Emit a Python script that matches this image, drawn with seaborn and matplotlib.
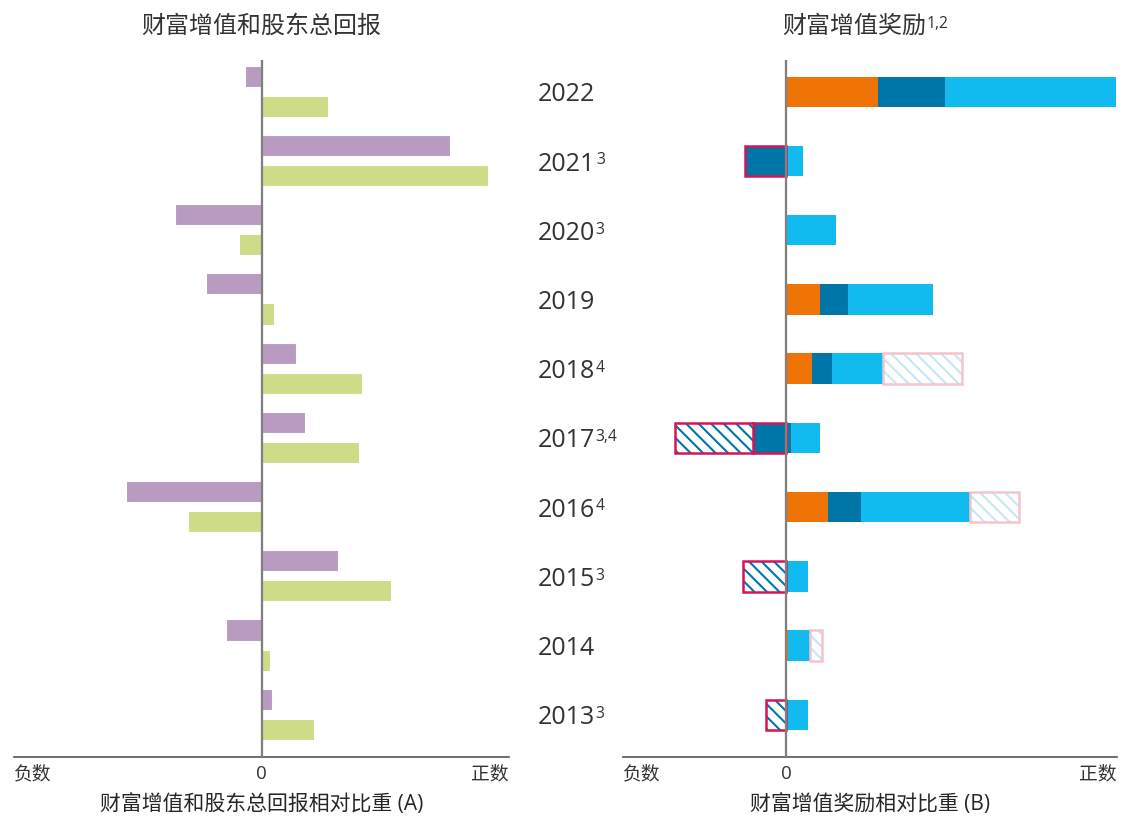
import matplotlib.pyplot as plt
import numpy as np
import pandas as pd
import seaborn as sns

# Years (top to bottom) and footnote markers
years = ['2022', '2021', '2020', '2019', '2018', '2017', '2016', '2015', '2014', '2013']
year_notes = ['', '3', '3', '', '4', '3,4', '4', '3', '', '3']

# Panel A: relative weight (-100 = 负数, 100 = 正数)
wealth_added = [-6.5, 76.6, -35.1, -22.6, 14.5, 18.1, -54.8, 31.5, -14.5, 4.8]
tsr = [27.4, 91.9, -8.9, 5.6, 41.1, 39.9, -29.8, 52.8, 4.0, 21.8]

# Panel B: bonus components, same units
bonus_orange = [37.1, 0, 0, 13.7, 10.5, 0.8, 16.9, 0, 0.8, 0]
bonus_dark = [27.0, 0, 0, 11.3, 8.1, 1.2, 13.3, 0, 0, 0]
bonus_light = [69.0, 6.9, 20.2, 34.3, 20.6, 11.7, 44.0, 8.9, 8.9, 8.9]
bonus_light_hatch = [0, 0, 0, 0, 31.9, 0, 19.8, 0, 4.8, 0]
bonus_dark_neg = [0, -16.5, 0, 0, 0, -13.3, 0, 0, 0, 0]
bonus_hatch_neg = [0, 0, 0, 0, 0, -31.5, 0, -17.3, 0, -8.1]

PURPLE, GREEN = '#B99BC1', '#CFDC87'
ORANGE, DARK, LIGHT = '#EF7405', '#0076A8', '#12BBEF'
RED, PINK, PALE = '#D4145A', '#F5C4CA', '#C4E6F7'
TEXT = '#333333'

sns.set_style('white')
plt.rcParams['font.family'] = ['Open Sans', 'Noto Sans CJK SC', 'DejaVu Sans']
plt.rcParams['hatch.linewidth'] = 1.0
plt.rcParams['text.color'] = TEXT
plt.rcParams['xtick.color'] = TEXT

fig = plt.figure(figsize=(7.48, 5.44), dpi=150)
W, H = 1122, 816
ax1 = fig.add_axes([14 / W, 59 / H, 495 / W, 697 / H])
ax2 = fig.add_axes([623 / W, 59 / H, 494 / W, 697 / H])

# Panel A: dodged bars with seaborn
dfA = pd.DataFrame({
    'year': years * 2,
    'measure': ['财富增值'] * len(years) + ['股东总回报'] * len(years),
    'value': wealth_added + tsr,
})
sns.barplot(data=dfA, x='value', y='year', hue='measure', palette=[PURPLE, GREEN],
            orient='h', width=0.87, gap=0.265, dodge=True, errorbar=None,
            saturation=1, legend=False, ax=ax1)

# Panel B: stacked bars
pos = np.arange(len(years))
h = 0.44
start = np.zeros(len(years))
for vals, color in [(bonus_orange, ORANGE), (bonus_dark, DARK), (bonus_light, LIGHT)]:
    v = np.array(vals, dtype=float)
    ax2.barh(pos, v, left=start, height=h, color=color, linewidth=0)
    start += v

v = np.array(bonus_light_hatch, dtype=float)
m = v > 0
ax2.barh(pos[m], v[m], left=start[m], height=h, facecolor='white', edgecolor=PALE,
         hatch='\\\\\\\\', linewidth=0)
ax2.barh(pos[m], v[m], left=start[m], height=h, facecolor='none', edgecolor=PINK, linewidth=1.2)

dn = np.array(bonus_dark_neg, dtype=float)
m = dn < 0
ax2.barh(pos[m], dn[m], height=h, facecolor=DARK, edgecolor=RED, linewidth=1.2)
hn = np.array(bonus_hatch_neg, dtype=float)
m = hn < 0
ax2.barh(pos[m], hn[m], left=dn[m], height=h, facecolor='white', edgecolor=DARK,
         hatch='\\\\\\\\', linewidth=0)
ax2.barh(pos[m], hn[m], left=dn[m], height=h, facecolor='none', edgecolor=RED, linewidth=1.2)

# Year labels between the panels, footnotes as small raised text
for i, (yr, note) in enumerate(zip(years, year_notes)):
    t = ax2.text(-0.172, i, yr, transform=ax2.get_yaxis_transform(),
                 ha='left', va='center_baseline', fontsize=12)
    if note:
        ax2.annotate(note, xy=(1, 0.97), xycoords=t, xytext=(0.2, 0),
                     textcoords='offset points', ha='left', va='top', fontsize=7.5)

# Axes styling
limits = [(-100, 100), (-65.7, 133.5)]
titles = ['财富增值和股东总回报', '财富增值奖励']
xlabels = ['财富增值和股东总回报相对比重 (A)', '财富增值奖励相对比重 (B)']
for ax, lim, title, xlabel in zip([ax1, ax2], limits, titles, xlabels):
    ax.set_xlim(lim)
    ax.set_ylim(9.61, -0.46)
    ax.axvline(0, color='#808080', linewidth=1.1, zorder=5)
    sns.despine(ax=ax, left=True)
    ax.spines['bottom'].set_color('#555555')
    ax.spines['bottom'].set_linewidth(0.8)
    ax.set_yticks([])
    ax.set_ylabel('')
    ax.set_xticks([lim[0], 0, lim[1]])
    ax.set_xticklabels(['负数', '0', '正数'], fontsize=9)
    ticklabels = ax.get_xticklabels()
    ticklabels[0].set_ha('left')
    ticklabels[2].set_ha('right')
    ax.tick_params(axis='x', length=0, pad=4)
    ax.set_xlabel(xlabel, fontsize=10, labelpad=5)
    ttl = ax.set_title(title, fontsize=11.5, pad=13)

ttl.set_x(0.468)
ax2.annotate('1,2', xy=(1, 0.97), xycoords=ttl, xytext=(0.3, 0),
             textcoords='offset points', ha='left', va='top', fontsize=7.5)

fig.savefig('out.png', dpi=150)
